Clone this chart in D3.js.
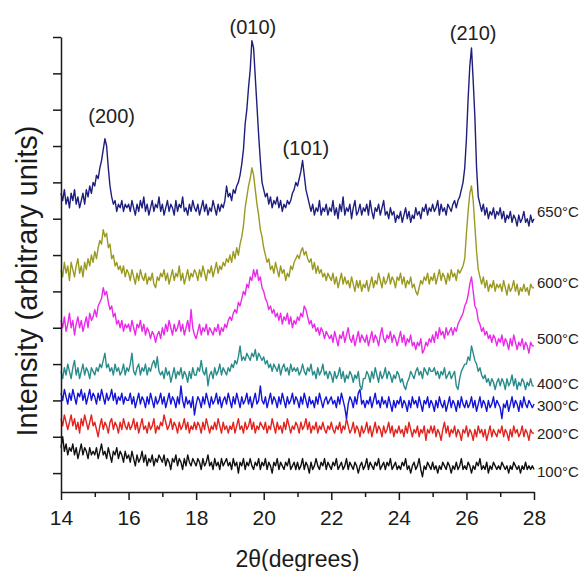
<!DOCTYPE html>
<html><head><meta charset="utf-8">
<script src="https://cdn.jsdelivr.net/npm/d3@7"></script>
<style>html,body{margin:0;padding:0;background:#fff;} svg{display:block;}</style>
</head><body><svg id="c" width="583" height="571"></svg>
<script>
// 2-theta sampling grid: 14.00 .. 28.00 in 0.05 degree steps
const thetaStart = 14, thetaStep = 0.05;

const s650 = [
77,75,78,74,76,73,77,75,78,74,76,73,75,77,74,78,76,79,77,80,
79,82,81,84,86,89,92,90,84,79,76,74,75,72,74,73,75,72,74,73,
74,72,75,73,71,74,72,75,73,76,72,74,71,73,75,72,74,73,76,72,
74,71,73,75,72,74,73,71,75,72,74,73,76,72,73,71,74,72,75,73,
72,74,71,73,75,72,74,71,73,72,75,73,71,74,72,74,73,75,79,76,
77,75,78,77,79,80,82,85,89,96,100,106,111,119,117,109,101,93,86,80,
78,76,77,74,76,73,75,74,76,73,75,72,74,73,75,74,75,77,78,80,
79,81,83,86,82,78,76,74,72,74,71,73,72,75,71,73,72,74,71,73,
72,75,71,73,70,74,72,76,71,73,72,74,70,73,75,71,72,74,71,73,
72,74,71,75,72,70,73,72,74,71,73,75,71,72,70,73,71,72,69,71,
70,72,69,71,73,70,72,69,71,70,73,71,72,70,73,72,74,71,73,72,
74,72,73,75,71,74,72,73,71,74,73,72,74,75,73,75,76,78,80,84,
92,103,112,117,108,98,84,76,74,72,74,71,73,70,72,71,73,70,72,71,
73,70,72,69,71,70,72,69,71,70,68,71,69,70,72,69,70,68,71,69,
70];

const s600 = [
56,54,58,55,57,53,58,56,54,57,59,55,57,54,58,56,59,57,60,58,
61,59,62,64,63,67,65,66,62,63,59,60,57,58,56,57,55,57,54,56,
55,53,56,54,52,55,53,56,54,53,55,52,54,53,55,52,51,54,53,55,
54,56,53,55,52,54,56,53,55,54,57,53,55,52,54,56,53,55,54,56,
55,53,56,54,57,55,53,56,55,57,54,56,58,55,57,56,58,57,59,58,
60,58,61,59,62,60,63,65,68,73,76,79,81,84,82,78,74,71,67,65,
62,60,58,59,56,57,55,58,56,54,57,55,56,53,55,54,57,56,58,59,
60,59,61,62,60,61,59,58,59,56,58,55,57,55,56,54,55,53,55,54,
53,55,52,54,51,53,55,52,54,52,53,51,54,52,50,53,51,53,50,52,
51,53,50,52,54,51,53,52,55,53,51,54,52,53,55,52,54,53,51,54,
53,55,52,54,51,53,52,54,51,52,50,49,51,53,52,54,53,55,52,54,
53,55,52,54,56,53,55,54,52,55,53,56,54,55,53,56,55,56,57,59,
66,72,77,79,75,68,61,56,54,52,54,51,53,50,52,51,53,50,52,51,
52,50,53,51,49,52,50,51,53,50,52,49,51,50,52,50,51,49,52,51,
51];

const s500 = [
42,40,43,39,41,44,40,42,38,41,43,40,42,39,41,43,40,44,42,43,
45,43,46,47,48,51,49,50,47,45,46,43,44,41,42,40,42,39,41,40,
41,39,42,40,38,41,40,42,39,41,38,40,39,37,39,38,36,38,39,37,
40,38,41,39,42,40,38,41,39,40,42,39,41,38,40,42,39,45,40,38,
37,39,41,38,40,39,41,38,40,39,38,40,39,41,38,40,39,41,40,42,
43,42,44,45,44,47,46,48,50,49,52,51,54,53,56,54,56,53,54,51,
50,48,47,45,46,44,45,43,44,42,44,41,43,42,44,41,43,40,42,41,
43,42,44,43,46,45,43,41,42,40,41,39,40,38,40,39,37,39,38,37,
38,36,39,37,35,38,37,39,36,38,40,37,36,38,35,37,39,36,38,37,
36,38,35,37,39,36,38,37,35,38,40,37,36,38,37,39,36,38,37,35,
37,39,36,38,35,37,36,38,35,36,34,36,35,37,33,34,36,35,37,36,
38,36,39,37,40,38,39,37,40,38,39,40,38,40,39,41,42,43,44,46,
47,49,52,54,50,46,45,42,41,39,40,38,39,37,38,36,38,37,35,37,
36,38,35,37,36,34,37,35,38,36,34,36,35,37,34,36,35,33,36,35,
35];

const s400 = [
28,26,29,27,30,28,26,29,31,27,29,26,28,30,27,29,28,26,29,28,
27,29,28,30,29,31,33,29,30,28,29,27,30,28,29,27,28,30,27,29,
28,30,33,28,27,29,30,27,29,28,30,27,29,28,30,31,29,32,28,27,
28,26,29,27,28,25,27,29,26,28,27,29,26,28,27,25,28,26,29,27,
27,29,28,31,28,27,29,24,27,28,26,29,27,28,30,27,29,28,27,29,
28,30,29,31,30,32,35,31,32,31,33,32,31,33,32,34,31,33,32,31,
32,30,31,29,30,28,30,29,28,30,27,29,30,28,29,27,30,28,29,28,
29,27,28,30,28,27,29,28,30,27,28,26,29,27,28,30,27,28,26,28,
27,25,28,26,27,29,26,28,25,27,26,28,27,25,27,26,28,24,23,26,
26,28,27,25,28,26,29,27,25,28,26,27,29,26,28,27,25,27,26,28,
27,25,26,24,23,25,26,28,27,26,28,29,27,28,26,29,28,27,29,28,
28,29,27,28,26,28,27,29,26,27,28,26,27,28,24,23,26,28,29,30,
30,32,31,35,33,31,30,28,29,27,26,27,25,26,24,26,25,23,25,26,
24,26,25,23,26,24,25,27,24,26,23,25,24,26,25,23,25,24,26,24,
24];

const s300 = [
22,20,23,21,19,22,20,23,21,19,22,21,23,20,22,19,21,23,20,22,
21,19,22,20,23,21,19,22,20,21,23,20,22,19,21,20,22,19,21,20,
20,22,19,21,18,20,22,19,21,20,18,21,19,22,20,18,21,19,20,22,
19,21,18,20,22,19,21,20,18,21,19,24,20,18,21,19,20,18,21,16,
19,21,20,18,21,19,22,20,18,21,19,20,22,19,21,18,20,21,19,22,
20,18,21,19,22,20,18,21,19,20,22,19,21,18,20,22,19,20,24,20,
19,21,18,20,22,19,21,20,18,21,19,22,20,18,21,19,20,22,19,21,
20,18,21,19,22,20,18,21,19,20,18,21,19,22,20,18,20,21,19,20,
21,19,20,18,21,19,22,20,18,15,19,21,20,18,21,19,22,23,19,20,
18,20,19,21,18,20,22,19,20,18,21,19,20,18,21,19,17,20,18,20,
19,21,18,20,19,17,20,18,21,19,20,18,21,19,17,20,19,21,18,20,
19,17,20,18,21,19,18,20,17,19,21,18,20,19,17,20,18,21,19,18,
20,18,19,21,18,20,17,19,21,18,20,19,17,20,18,19,21,18,20,19,
18,15,19,18,20,17,19,21,18,20,19,17,20,18,21,19,18,20,19,18,
19];

const s200 = [
15,13,16,14,12,14,16,13,15,12,14,11,15,13,16,14,12,14,16,13,
14,12,10,13,15,12,14,13,11,14,15,12,14,13,11,14,12,15,13,12,
14,12,13,15,12,14,11,13,15,12,13,11,14,12,13,15,11,13,12,14,
13,16,14,12,13,15,12,14,13,11,14,12,13,15,12,14,11,13,12,14,
12,14,13,11,14,12,15,13,11,13,12,14,12,15,13,11,14,12,13,11,
13,12,14,11,13,15,12,13,11,14,12,13,15,12,14,11,13,12,14,13,
12,14,11,13,12,15,13,11,14,12,13,11,14,12,15,13,11,13,12,14,
13,11,14,12,13,15,12,14,11,13,12,14,11,13,12,14,12,11,13,12,
14,12,11,13,12,14,11,13,12,15,13,11,12,14,11,13,12,10,13,11,
12,14,11,13,10,12,14,11,13,12,10,13,11,12,14,11,13,10,12,11,
13,11,12,10,13,11,14,12,10,12,11,13,10,12,11,13,9,12,11,13,
11,13,10,12,11,9,12,14,11,13,10,12,11,13,10,12,11,9,12,11,
13,10,12,11,9,12,10,13,11,12,10,12,9,11,13,10,12,11,10,12,
11,13,10,12,11,9,12,10,13,11,12,10,11,13,10,12,11,9,12,11,
11];

const s100 = [
7,10,6,8,5,7,6,8,5,7,4,6,8,5,7,6,4,7,5,6,
5,7,4,6,8,5,6,4,7,5,3,6,5,7,4,6,5,3,6,4,
5,3,6,4,2,5,3,4,6,3,5,2,4,3,5,2,4,3,5,4,
3,5,2,4,3,1,4,3,5,2,4,3,1,4,2,5,3,2,4,3,
2,4,3,1,4,2,3,5,2,3,1,4,2,3,1,4,2,3,4,2,
3,1,4,2,3,0,3,2,4,1,3,2,4,2,1,3,2,4,1,3,
2,4,1,3,2,0,3,2,4,1,3,2,1,3,2,4,1,2,3,1,
3,1,2,4,1,3,2,0,3,1,2,4,2,1,3,2,4,1,3,2,
1,3,2,4,1,2,3,1,2,4,1,3,2,1,3,2,0,2,3,1,
2,4,1,3,2,1,3,2,4,1,2,3,1,3,2,4,1,2,3,1,
2,1,3,2,4,1,2,0,2,3,1,2,4,1,-1,2,1,3,2,1,
3,1,2,0,2,1,3,2,1,3,2,0,2,1,3,1,2,4,1,2,
1,3,2,0,2,1,3,2,4,1,2,1,3,0,2,1,3,2,1,2,
1,3,2,1,2,0,2,1,3,2,1,2,0,2,1,3,1,2,1,2,
1];

const seriesNames = ["100°C","200°C","300°C","400°C","500°C","600°C","650°C"];
const seriesValues = [s100, s200, s300, s400, s500, s600, s650];
const seriesColors = ["#111111","#e3231d","#1414d8","#2a8c8a","#ea2aea","#9a9a22","#1e1e7e"];
const labelAt = [0.5, 10.7, 18.4, 24.5, 36.9, 52.5, 71.8];

const peakNames = ["(200)","(010)","(101)","(210)"];
const peakTheta = [15.5, 19.68, 21.25, 26.2];
const peakLabelAt = [96.3, 120.7, 87.5, 119.1];

const xTicks = [14,16,18,20,22,24,26,28];
const xMinorTicks = [15,17,19,21,23,25,27];
const yTicks = [0,10,20,30,40,50,60,70,80,90,100,110,120];

const xLabel = "2θ(degrees)";
const yLabel = "Intensity (arbitrary units)";

const FONT = "'Liberation Sans', Arial, Helvetica, sans-serif";
const svg = d3.select("#c");
svg.append("rect").attr("width",583).attr("height",571).attr("fill","#fff");

const x = d3.scaleLinear().domain([14, 28]).range([61, 534]);
const y = d3.scaleLinear().domain([-5.2, 120]).range([492, 37]);

const line = d3.line()
  .x((d,i) => x(thetaStart + i*thetaStep))
  .y(d => y(d))
  .curve(d3.curveLinear);

const g = svg.append("g");
seriesValues.forEach((vals, k) => {
  g.append("path").datum(vals)
    .attr("d", line)
    .attr("fill","none")
    .attr("stroke", seriesColors[k])
    .attr("stroke-width", 1.4)
    .attr("stroke-linejoin","round");
});

// axes
const axisColor = "#1a1a1a";
const xa = svg.append("g").attr("transform","translate(0,492)")
  .call(d3.axisBottom(x).tickValues(xTicks).tickSize(8).tickSizeOuter(0).tickPadding(10).tickFormat(d3.format("d")));
svg.append("g").attr("transform","translate(0,492)")
  .call(d3.axisBottom(x).tickValues(xMinorTicks).tickSize(5).tickSizeOuter(0).tickFormat(""))
  .select(".domain").remove();
const ya = svg.append("g").attr("transform","translate(61,0)")
  .call(d3.axisLeft(y).tickValues(yTicks).tickSize(8).tickSizeOuter(0).tickFormat(""));

svg.selectAll(".domain, .tick line").attr("stroke", axisColor).attr("stroke-width", 1.5);
xa.selectAll("text").attr("font-size", 21).attr("font-family", FONT).attr("fill", axisColor);

// axis titles
svg.append("text").attr("x", 297.5).attr("y", 567).attr("text-anchor","middle")
  .attr("font-size", 23).attr("font-family", FONT).attr("fill", axisColor).text(xLabel);
svg.append("text").attr("transform","translate(37,281) rotate(-90)").attr("text-anchor","middle")
  .attr("font-size", 29).attr("font-family", FONT).attr("fill", axisColor).text(yLabel);

// series labels
seriesNames.forEach((n, k) => {
  svg.append("text").attr("x", 537).attr("y", y(labelAt[k])).attr("dy","0.35em")
    .attr("font-size", 15).attr("font-family", FONT).attr("fill", "#222").text(n);
});

// peak labels
peakNames.forEach((n, k) => {
  svg.append("text").attr("x", x(peakTheta[k])).attr("y", y(peakLabelAt[k]))
    .attr("text-anchor","middle").attr("font-size", 20).attr("font-family", FONT)
    .attr("fill", "#222").text(n);
});
</script></body></html>
